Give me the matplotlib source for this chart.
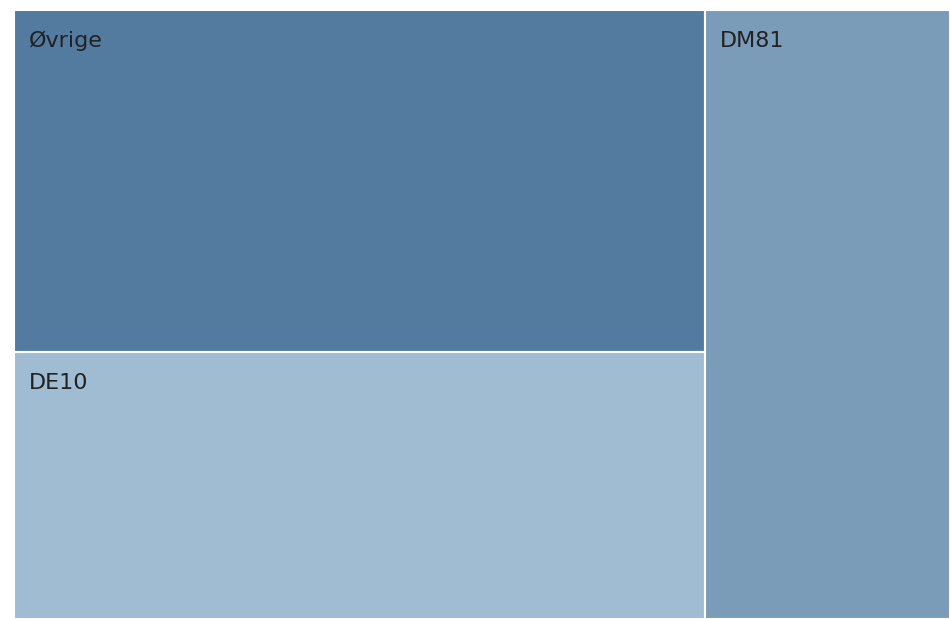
import matplotlib.pyplot as plt
from matplotlib.patches import Rectangle

labels = ['Øvrige', 'DE10', 'DM81']
values = [41.5, 32.3, 26.2]
colors = ['#537b9f', '#9fbcd3', '#7a9cb8']

W, H = 936, 609
fig = plt.figure(figsize=(9.5, 6.19), dpi=100)
ax = fig.add_axes([14 / 950, 0, W / 950, H / 619])
ax.set_xlim(0, W)
ax.set_ylim(H, 0)
ax.axis('off')

total = sum(values)
# left column: first two, right column: last one
col_w = (values[0] + values[1]) / total * W
top_h = values[0] / (values[0] + values[1]) * H
rects = [
    (0, 0, col_w, top_h),
    (0, top_h, col_w, H - top_h),
    (col_w, 0, W - col_w, H),
]

for (x, y, w, h), lab, c in zip(rects, labels, colors):
    ax.add_patch(Rectangle((x, y), w, h, facecolor=c, edgecolor='white', linewidth=1.5))
    ax.text(x + 15, y + 21, lab, fontsize=16, color='#222222', va='top', ha='left',
            family='DejaVu Sans')

fig.savefig('out.png', dpi=100)
